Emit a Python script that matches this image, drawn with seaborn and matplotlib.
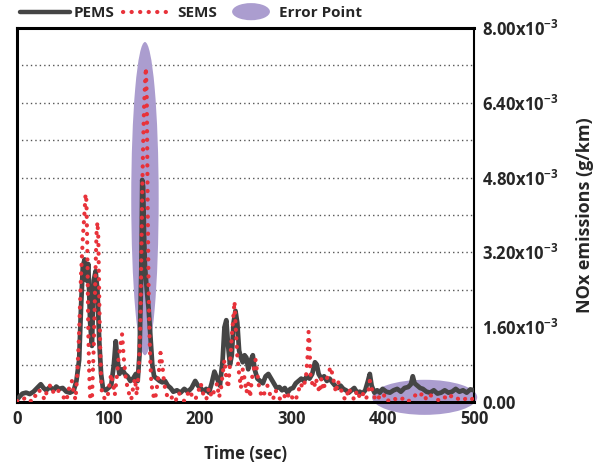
import numpy as np
import pandas as pd
import seaborn as sns
import matplotlib
matplotlib.use("Agg")
import matplotlib.pyplot as plt
from matplotlib.patches import Ellipse, Patch
from matplotlib.legend_handler import HandlerPatch
from matplotlib.lines import Line2D

# ---------------- data (NOx in units of 1e-3 g/km) ----------------
pems_t = [0, 3, 6, 10, 14, 18, 22, 26, 29, 32, 36, 40, 43, 46, 50, 54, 58, 62, 65, 68,
          70, 72, 74, 76, 78, 80, 82, 84, 86, 88, 90, 92, 94, 97, 100, 103, 106, 108, 110, 112,
          115, 118, 121, 124, 127, 130, 132, 134, 136, 137, 138, 139, 140, 142, 144, 146, 148, 150, 153, 156,
          159, 162, 165, 168, 171, 175, 179, 183, 187, 191, 195, 198, 201, 204, 207, 210, 213, 216, 219, 222,
          225, 227, 229, 231, 233, 235, 237, 239, 241, 243, 245, 247, 249, 251, 253, 256, 258, 260, 263, 266,
          269, 272, 275, 278, 281, 284, 287, 290, 293, 296, 299, 302, 305, 308, 311, 314, 317, 320, 323, 326,
          328, 330, 333, 336, 339, 342, 345, 348, 351, 354, 357, 360, 363, 366, 369, 372, 375, 378, 381, 384,
          386, 388, 391, 394, 397, 400, 404, 408, 412, 416, 420, 424, 428, 431, 433, 435, 438, 441, 444, 448,
          452, 456, 460, 464, 468, 472, 476, 480, 484, 488, 492, 496, 500]
pems_v = [0.05, 0.12, 0.18, 0.2, 0.17, 0.22, 0.3, 0.38, 0.3, 0.25, 0.32, 0.26, 0.33, 0.28, 0.3, 0.22, 0.2, 0.24, 0.45, 0.9,
          2.0, 2.9, 3.05, 2.6, 2.95, 1.7, 1.2, 2.6, 2.8, 2.4, 1.3, 0.6, 0.3, 0.25, 0.3, 0.35, 0.8, 1.3, 0.9, 0.6,
          0.7, 0.6, 0.55, 0.45, 0.5, 0.6, 0.45, 1.0, 2.8, 4.75, 4.6, 3.6, 2.9, 2.4, 2.0, 1.4, 0.8, 0.55, 0.5, 0.45,
          0.42, 0.45, 0.35, 0.3, 0.22, 0.25, 0.2, 0.28, 0.22, 0.3, 0.45, 0.35, 0.3, 0.22, 0.28, 0.2, 0.4, 0.65, 0.5, 0.35,
          0.9, 1.6, 1.75, 1.2, 0.8, 1.0, 1.7, 1.95, 1.7, 1.1, 0.95, 0.85, 1.0, 0.95, 0.7, 0.9, 1.0, 0.7, 0.5, 0.45,
          0.4, 0.55, 0.6, 0.5, 0.4, 0.3, 0.32, 0.25, 0.3, 0.2, 0.28, 0.3, 0.4, 0.45, 0.5, 0.45, 0.55, 0.5, 0.6, 0.85,
          0.8, 0.6, 0.5, 0.55, 0.45, 0.5, 0.42, 0.35, 0.3, 0.35, 0.28, 0.25, 0.2, 0.25, 0.3, 0.2, 0.22, 0.18, 0.25, 0.45,
          0.6, 0.35, 0.2, 0.25, 0.2, 0.28, 0.22, 0.2, 0.25, 0.28, 0.22, 0.3, 0.32, 0.38, 0.55, 0.4, 0.35, 0.3, 0.28, 0.22,
          0.2, 0.25, 0.18, 0.2, 0.25, 0.2, 0.22, 0.28, 0.22, 0.25, 0.2, 0.27, 0.25]

sems_t = [0, 3, 6, 9, 12, 15, 18, 21, 24, 27, 30, 33, 36, 39, 42, 45, 48, 51, 54, 57,
          60, 62, 64, 66, 68, 70, 72, 74, 75, 76, 77, 78, 79, 80, 82, 84, 86, 87, 88, 89,
          90, 91, 92, 93, 95, 97, 99, 101, 103, 105, 107, 109, 111, 113, 115, 117, 119, 121, 123, 125,
          127, 129, 131, 133, 135, 136, 137, 138, 139, 140, 141, 142, 143, 144, 145, 146, 147, 149, 151, 153,
          155, 157, 159, 161, 163, 165, 168, 171, 174, 177, 180, 183, 186, 189, 192, 195, 198, 201, 204, 207,
          210, 213, 216, 219, 221, 223, 225, 227, 229, 231, 233, 235, 237, 238, 239, 241, 243, 245, 247, 249,
          251, 253, 255, 257, 259, 261, 263, 265, 268, 271, 274, 277, 280, 283, 286, 289, 292, 295, 298, 301,
          304, 307, 310, 313, 316, 318, 319, 320, 321, 323, 325, 327, 329, 331, 333, 335, 337, 340, 343, 345,
          347, 349, 351, 354, 357, 360, 363, 366, 369, 372, 375, 378, 381, 384, 386, 388, 390, 393, 396, 399,
          402, 405, 408, 412, 416, 420, 424, 428, 432, 436, 440, 444, 448, 452, 456, 460, 464, 468, 472, 476,
          480, 484, 488, 492, 496, 500]
sems_v = [0.02, 0.05, 0.03, 0.1, 0.08, 0.02, 0.15, 0.12, 0.25, 0.2, 0.05, 0.25, 0.35, 0.2, 0.3, 0.25, 0.15, 0.1, 0.02, 0.3,
          0.45, 0.2, 0.05, 0.6, 1.5, 2.7, 3.5, 4.1, 4.45, 4.3, 3.2, 1.5, 0.6, 0.1, 0.05, 1.2, 2.9, 3.6, 3.85, 3.5,
          2.2, 1.2, 0.5, 0.15, 0.1, 0.05, 0.1, 0.35, 0.6, 0.4, 0.15, 0.5, 0.9, 1.2, 1.45, 0.9, 0.5, 0.3, 0.15, 0.05,
          0.3, 0.5, 0.15, 0.6, 1.6, 3.0, 4.5, 5.5, 6.3, 6.8, 7.15, 6.5, 4.2, 2.4, 1.4, 0.8, 0.4, 0.15, 0.05, 0.3,
          0.6, 1.05, 0.8, 0.4, 0.2, 0.1, 0.05, 0.15, 0.05, 0.2, 0.1, 0.02, 0.15, 0.25, 0.1, 0.05, 0.2, 0.4, 0.15, 0.05,
          0.3, 0.1, 0.25, 0.4, 0.1, 0.25, 0.6, 0.9, 0.5, 0.3, 0.8, 1.4, 1.9, 2.15, 1.7, 1.0, 0.6, 0.3, 0.7, 0.5,
          0.2, 0.4, 0.1, 0.5, 0.7, 0.9, 0.6, 0.3, 0.1, 0.2, 0.35, 0.15, 0.05, 0.25, 0.1, 0.05, 0.15, 0.05, 0.2, 0.1,
          0.02, 0.15, 0.4, 0.3, 0.5, 1.0, 1.5, 1.3, 0.6, 0.4, 0.3, 0.5, 0.35, 0.2, 0.5, 0.25, 0.4, 0.55, 0.75, 0.6,
          0.4, 0.2, 0.45, 0.3, 0.1, 0.05, 0.3, 0.15, 0.05, 0.25, 0.1, 0.2, 0.05, 0.15, 0.45, 0.3, 0.15, 0.02, 0.1, 0.05,
          0.15, 0.02, 0.05, 0.1, 0.02, 0.05, 0.1, 0.02, 0.05, 0.15, 0.1, 0.2, 0.05, 0.15, 0.1, 0.05, 0.02, 0.1, 0.05, 0.15,
          0.1, 0.05, 0.02, 0.1, 0.05, 0.08]

x_ticks = [0, 100, 200, 300, 400, 500]
y_ticks = [0.0, 1.6, 3.2, 4.8, 6.4, 8.0]
y_tick_labels = ["0.00", r"1.60x10$^{\mathbf{-3}}$", r"3.20x10$^{\mathbf{-3}}$", r"4.80x10$^{\mathbf{-3}}$",
                 r"6.40x10$^{\mathbf{-3}}$", r"8.00x10$^{\mathbf{-3}}$"]
grid_levels = [0.8, 1.6, 2.4, 3.2, 4.0, 4.8, 5.6, 6.4, 7.2]

# ---------------- styling ----------------
sns.set_style("white")
plt.rcParams['font.family'] = ['Open Sans', 'DejaVu Sans']
plt.rcParams['font.weight'] = 'bold'
plt.rcParams['mathtext.fontset'] = 'custom'
plt.rcParams['mathtext.rm'] = 'Open Sans:bold'
plt.rcParams['mathtext.bf'] = 'Open Sans:bold'
plt.rcParams['mathtext.default'] = 'bf'

PEMS_C = "#454545"
SEMS_C = "#e8323a"
ELL_C = "#ab9dcf"

fig = plt.figure(figsize=(6.03, 4.68), dpi=100)
ax = fig.add_axes([17 / 603, 1 - 402 / 468, (474 - 17) / 603, (402 - 28) / 468])

for g in grid_levels:
    ax.axhline(g, color="#555555", lw=1.0, ls=(0, (1, 2.2)), zorder=1)

ax.add_patch(Ellipse((140, 4.35), 30, 6.7, facecolor=ELL_C, edgecolor="none", zorder=2))
ax.add_patch(Ellipse((446, 0.1), 115, 0.75, facecolor=ELL_C, edgecolor="none", zorder=2, clip_on=False))

pems_df = pd.DataFrame({"t": pems_t, "v": pems_v})
sems_df = pd.DataFrame({"t": sems_t, "v": sems_v})
sns.lineplot(data=pems_df, x="t", y="v", ax=ax, color=PEMS_C, lw=3.4, sort=False, zorder=3,
             estimator=None)
sns.lineplot(data=sems_df, x="t", y="v", ax=ax, color=SEMS_C, lw=3.0, sort=False, zorder=4,
             estimator=None, ls=(0, (0.05, 2.0)), dash_capstyle="round")

ax.set_xlim(0, 500)
ax.set_ylim(0, 8)
ax.set_xticks(x_ticks)
ax.set_xticklabels([str(v) for v in x_ticks], fontsize=12, fontweight="bold")
ax.yaxis.tick_right()
ax.yaxis.set_label_position("right")
ax.set_yticks(y_ticks)
ax.set_yticklabels(y_tick_labels, fontsize=12, fontweight="bold")
ax.tick_params(axis="both", length=0, pad=6)
ax.set_xlabel("Time (sec)", fontsize=12, fontweight="bold", labelpad=12)
ax.set_ylabel("NOx emissions (g/km)", fontsize=13, fontweight="bold", labelpad=12)

for side in ["left", "bottom", "top"]:
    ax.spines[side].set_linewidth(2.2)
    ax.spines[side].set_color("black")
ax.spines["right"].set_linewidth(1.5)
ax.spines["right"].set_color("black")


class HandlerEllipse(HandlerPatch):
    def create_artists(self, legend, orig_handle, xdescent, ydescent, width, height, fontsize, trans):
        center = 0.5 * width - 0.5 * xdescent, 0.5 * height - 0.5 * ydescent
        p = Ellipse(xy=center, width=width * 0.75, height=height * 1.6)
        self.update_prop(p, orig_handle, legend)
        p.set_transform(trans)
        return [p]


handles = [Line2D([], [], color=PEMS_C, lw=3.2),
           Line2D([], [], color=SEMS_C, lw=3.0, ls=(0, (0.05, 2.0)), dash_capstyle="round"),
           Patch(facecolor=ELL_C, edgecolor="none")]
labels = ["PEMS", "SEMS", "Error Point"]
fig.legend(handles, labels, loc="center left", bbox_to_anchor=(0.01, 1 - 13 / 468), ncol=3,
           frameon=False, handlelength=3.3, handletextpad=0.2, columnspacing=0.6,
           handler_map={Patch: HandlerEllipse()}, prop={"weight": "bold", "size": 11})

fig.savefig("out.png", dpi=100)
